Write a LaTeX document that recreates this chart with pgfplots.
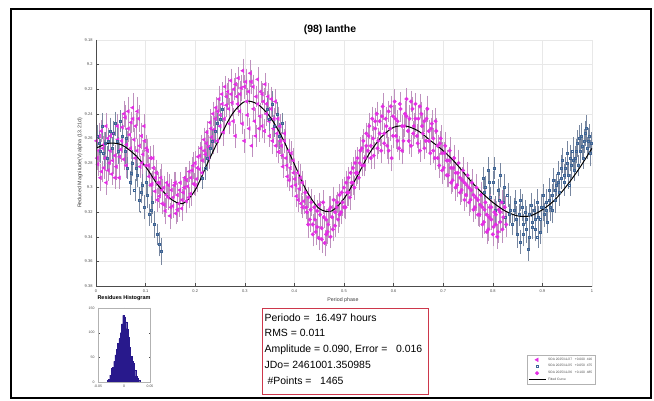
\documentclass[border=0pt]{standalone}
\usepackage{pgfplots}
\pgfplotsset{compat=1.18}
\usepackage{pgfplotstable}
\usepackage{fontspec}
\setmainfont{Liberation Sans}
\definecolor{mag}{RGB}{228,45,228}
\definecolor{magerr}{RGB}{190,145,190}
\definecolor{blu}{RGB}{60,100,150}
\definecolor{bluerr}{RGB}{120,135,160}
\definecolor{hist}{RGB}{40,25,140}
\definecolor{boxred}{RGB}{205,55,75}

\pgfplotstableread{
p m e
0.001 9.262 0.008
0.004 9.281 0.009
0.006 9.270 0.008
0.009 9.292 0.010
0.011 9.254 0.008
0.014 9.268 0.009
0.016 9.284 0.008
0.019 9.276 0.010
0.021 9.296 0.009
0.024 9.260 0.008
0.027 9.280 0.009
0.029 9.270 0.010
0.032 9.289 0.008
0.035 9.256 0.009
0.038 9.274 0.008
0.041 9.283 0.010
0.044 9.261 0.009
0.047 9.292 0.008
0.050 9.269 0.009
0.053 9.251 0.010
0.056 9.277 0.008
0.059 9.243 0.009
0.062 9.265 0.010
0.065 9.238 0.011
0.068 9.257 0.009
0.071 9.247 0.008
0.074 9.235 0.011
0.077 9.261 0.009
0.080 9.250 0.010
0.083 9.270 0.009
0.086 9.244 0.010
0.089 9.283 0.008
0.092 9.258 0.010
0.095 9.273 0.009
0.098 9.262 0.008
0.101 9.282 0.010
0.104 9.270 0.009
0.107 9.291 0.008
0.110 9.276 0.009
0.113 9.297 0.010
0.116 9.284 0.008
0.119 9.303 0.009
0.122 9.288 0.010
0.125 9.296 0.008
0.128 9.307 0.009
0.131 9.292 0.010
0.134 9.313 0.008
0.137 9.300 0.009
0.140 9.319 0.010
0.143 9.296 0.008
0.146 9.308 0.009
0.149 9.323 0.010
0.152 9.302 0.008
0.155 9.315 0.009
0.158 9.298 0.010
0.161 9.321 0.008
0.164 9.306 0.009
0.167 9.313 0.010
0.170 9.296 0.008
0.173 9.317 0.009
0.176 9.304 0.010
0.179 9.292 0.008
0.182 9.311 0.009
0.185 9.299 0.010
0.188 9.287 0.008
0.191 9.305 0.009
0.194 9.286 0.010
0.197 9.297 0.008
0.200 9.280 0.009
0.203 9.293 0.010
0.206 9.275 0.008
0.209 9.285 0.009
0.212 9.268 0.010
0.215 9.278 0.008
0.218 9.261 0.009
0.221 9.273 0.010
0.224 9.255 0.008
0.227 9.267 0.009
0.230 9.247 0.010
0.233 9.259 0.008
0.236 9.240 0.009
0.239 9.253 0.010
0.242 9.235 0.008
0.245 9.262 0.009
0.248 9.228 0.010
0.251 9.241 0.008
0.254 9.224 0.009
0.257 9.255 0.010
0.260 9.218 0.008
0.263 9.233 0.009
0.266 9.222 0.010
0.269 9.248 0.008
0.272 9.213 0.009
0.275 9.231 0.010
0.278 9.220 0.008
0.281 9.258 0.009
0.284 9.226 0.010
0.287 9.211 0.008
0.290 9.238 0.009
0.293 9.219 0.010
0.296 9.205 0.009
0.299 9.262 0.009
0.302 9.214 0.010
0.305 9.241 0.008
0.308 9.222 0.009
0.311 9.207 0.010
0.314 9.266 0.008
0.317 9.218 0.009
0.320 9.246 0.010
0.323 9.226 0.008
0.326 9.212 0.009
0.329 9.252 0.010
0.332 9.222 0.008
0.335 9.250 0.009
0.338 9.230 0.010
0.341 9.216 0.008
0.344 9.240 0.009
0.347 9.226 0.010
0.350 9.258 0.008
0.353 9.236 0.009
0.356 9.262 0.010
0.359 9.244 0.008
0.362 9.230 0.009
0.365 9.256 0.010
0.368 9.271 0.008
0.371 9.250 0.009
0.374 9.266 0.010
0.377 9.283 0.008
0.380 9.262 0.009
0.383 9.276 0.010
0.386 9.291 0.008
0.389 9.270 0.009
0.392 9.284 0.010
0.395 9.299 0.008
0.398 9.278 0.009
0.401 9.293 0.010
0.404 9.307 0.008
0.407 9.288 0.009
0.410 9.301 0.010
0.413 9.313 0.008
0.416 9.296 0.009
0.419 9.311 0.010
0.0025 9.276 0.009
0.0070 9.258 0.010
0.0115 9.287 0.008
0.0160 9.265 0.009
0.0205 9.250 0.010
0.0250 9.286 0.008
0.0295 9.258 0.009
0.0340 9.278 0.010
0.0385 9.292 0.008
0.0430 9.250 0.009
0.0475 9.275 0.011
0.0520 9.262 0.009
0.0565 9.240 0.010
0.0610 9.282 0.009
0.0655 9.252 0.010
0.0700 9.268 0.008
0.0745 9.244 0.010
0.0790 9.276 0.009
0.0835 9.238 0.011
0.0880 9.266 0.009
0.0925 9.280 0.010
0.0970 9.250 0.009
0.1015 9.268 0.010
0.1060 9.282 0.008
0.1105 9.298 0.009
0.1150 9.276 0.010
0.1195 9.292 0.008
0.1240 9.310 0.009
0.1285 9.296 0.010
0.1330 9.302 0.008
0.1375 9.314 0.009
0.1420 9.306 0.010
0.1465 9.298 0.008
0.1510 9.316 0.009
0.1555 9.308 0.010
0.1600 9.296 0.008
0.1645 9.318 0.009
0.1690 9.302 0.010
0.1735 9.310 0.008
0.1780 9.300 0.009
0.1825 9.294 0.010
0.1870 9.308 0.008
0.1915 9.292 0.009
0.1960 9.282 0.010
0.2005 9.298 0.008
0.2050 9.284 0.009
0.2095 9.274 0.010
0.2140 9.288 0.008
0.2185 9.270 0.009
0.2230 9.264 0.010
0.2275 9.276 0.008
0.2320 9.252 0.009
0.2365 9.262 0.010
0.2410 9.244 0.008
0.2455 9.238 0.009
0.2500 9.250 0.010
0.2545 9.232 0.008
0.2590 9.244 0.009
0.2635 9.226 0.010
0.2680 9.236 0.008
0.2725 9.224 0.009
0.2770 9.246 0.010
0.2815 9.216 0.008
0.2860 9.232 0.009
0.2905 9.224 0.010
0.2950 9.248 0.008
0.2995 9.218 0.009
0.3040 9.230 0.010
0.3085 9.252 0.008
0.3130 9.214 0.009
0.3175 9.236 0.010
0.3220 9.258 0.008
0.3265 9.232 0.009
0.3310 9.242 0.010
0.3355 9.224 0.008
0.3400 9.254 0.009
0.3445 9.232 0.010
0.3490 9.246 0.008
0.3535 9.228 0.009
0.3580 9.252 0.010
0.3625 9.266 0.008
0.3670 9.244 0.009
0.3715 9.262 0.010
0.3760 9.274 0.008
0.3805 9.256 0.009
0.3850 9.282 0.010
0.3895 9.294 0.008
0.3940 9.272 0.009
0.3985 9.288 0.010
0.4030 9.298 0.008
0.4075 9.310 0.009
0.4120 9.292 0.010
0.4165 9.316 0.008
}\sA

\pgfplotstableread{
p m e
0.780 9.292 0.008
0.785 9.300 0.009
0.790 9.286 0.010
0.795 9.308 0.008
0.800 9.296 0.009
0.805 9.318 0.010
0.810 9.302 0.008
0.815 9.290 0.009
0.820 9.312 0.010
0.825 9.324 0.008
0.830 9.306 0.009
0.835 9.318 0.010
0.840 9.330 0.008
0.845 9.312 0.009
0.850 9.338 0.010
0.853 9.322 0.008
0.856 9.344 0.009
0.859 9.316 0.010
0.862 9.330 0.008
0.865 9.320 0.009
0.868 9.334 0.010
0.871 9.350 0.009
0.874 9.322 0.008
0.877 9.314 0.009
0.880 9.328 0.010
0.883 9.318 0.008
0.886 9.334 0.009
0.889 9.312 0.010
0.892 9.324 0.008
0.895 9.336 0.009
0.898 9.316 0.010
0.901 9.306 0.008
0.904 9.322 0.009
0.907 9.312 0.010
0.910 9.328 0.008
0.913 9.302 0.009
0.916 9.316 0.010
0.919 9.306 0.008
0.922 9.294 0.009
0.925 9.310 0.010
0.928 9.298 0.008
0.931 9.288 0.009
0.934 9.304 0.010
0.937 9.292 0.008
0.940 9.278 0.009
0.943 9.296 0.010
0.946 9.284 0.008
0.949 9.272 0.009
0.952 9.290 0.010
0.955 9.298 0.008
0.958 9.282 0.009
0.961 9.270 0.010
0.964 9.286 0.008
0.967 9.276 0.009
0.970 9.264 0.010
0.973 9.282 0.008
0.976 9.270 0.009
0.979 9.258 0.010
0.982 9.276 0.008
0.985 9.262 0.009
0.988 9.252 0.010
0.991 9.268 0.008
0.994 9.258 0.009
0.997 9.272 0.010
0.003 9.258 0.008
0.008 9.270 0.009
0.013 9.250 0.010
0.018 9.264 0.008
0.023 9.276 0.009
0.028 9.254 0.010
0.033 9.268 0.008
0.038 9.248 0.009
0.043 9.262 0.010
0.048 9.246 0.008
0.053 9.258 0.009
0.058 9.270 0.010
0.063 9.284 0.008
0.068 9.296 0.009
0.073 9.280 0.010
0.078 9.302 0.008
0.083 9.290 0.009
0.088 9.310 0.010
0.093 9.298 0.008
0.098 9.316 0.009
0.103 9.306 0.010
0.108 9.322 0.008
0.113 9.312 0.009
0.118 9.330 0.010
0.123 9.338 0.008
0.128 9.346 0.009
0.131 9.352 0.010
0.215 9.292 0.008
0.220 9.284 0.009
0.225 9.276 0.010
0.230 9.268 0.008
0.235 9.262 0.009
0.240 9.254 0.010
0.245 9.248 0.008
0.250 9.244 0.009
0.255 9.236 0.010
0.345 9.236 0.008
0.350 9.244 0.009
0.355 9.232 0.010
0.360 9.250 0.008
0.365 9.240 0.009
0.370 9.258 0.010
0.375 9.248 0.008
0.7825 9.304 0.009
0.7925 9.296 0.010
0.8025 9.284 0.008
0.8125 9.310 0.009
0.8225 9.300 0.010
0.8325 9.322 0.008
0.8425 9.318 0.009
0.8475 9.326 0.010
0.8545 9.310 0.008
0.8605 9.338 0.009
0.8665 9.326 0.010
0.8725 9.340 0.008
0.8785 9.332 0.009
0.8845 9.326 0.010
0.8905 9.340 0.008
0.8965 9.326 0.009
0.9025 9.316 0.010
0.9085 9.318 0.008
0.9145 9.310 0.009
0.9205 9.318 0.010
0.9265 9.302 0.008
0.9325 9.296 0.009
0.9385 9.284 0.010
0.9445 9.290 0.008
0.9505 9.280 0.009
0.9565 9.276 0.010
0.9625 9.278 0.008
0.9685 9.270 0.009
0.9745 9.260 0.010
0.9805 9.266 0.008
0.9865 9.256 0.009
0.9925 9.262 0.010
0.9985 9.264 0.008
0.0055 9.264 0.009
0.0155 9.272 0.010
0.0255 9.262 0.008
0.0355 9.256 0.009
0.0455 9.270 0.010
0.0605 9.260 0.008
0.0705 9.288 0.009
0.0805 9.284 0.010
0.0905 9.304 0.008
0.1005 9.296 0.009
0.1105 9.318 0.010
}\sB

\pgfplotstableread{
p m e
0.422 9.304 0.009
0.425 9.320 0.010
0.428 9.308 0.008
0.431 9.326 0.009
0.434 9.312 0.010
0.437 9.330 0.008
0.440 9.316 0.009
0.443 9.336 0.010
0.446 9.319 0.008
0.449 9.341 0.009
0.452 9.322 0.010
0.455 9.333 0.008
0.458 9.312 0.009
0.461 9.345 0.010
0.464 9.326 0.008
0.467 9.336 0.009
0.470 9.318 0.010
0.473 9.340 0.008
0.476 9.324 0.009
0.479 9.310 0.010
0.482 9.331 0.008
0.485 9.316 0.009
0.488 9.326 0.010
0.491 9.306 0.008
0.494 9.320 0.009
0.497 9.312 0.010
0.500 9.300 0.008
0.503 9.316 0.009
0.506 9.304 0.010
0.509 9.292 0.008
0.512 9.308 0.009
0.515 9.296 0.010
0.518 9.284 0.008
0.521 9.300 0.009
0.524 9.288 0.010
0.527 9.276 0.008
0.530 9.292 0.009
0.533 9.270 0.010
0.536 9.282 0.008
0.539 9.262 0.009
0.542 9.276 0.010
0.545 9.256 0.008
0.548 9.270 0.009
0.551 9.250 0.010
0.554 9.266 0.008
0.557 9.244 0.009
0.560 9.274 0.010
0.563 9.252 0.008
0.566 9.240 0.009
0.569 9.262 0.010
0.572 9.246 0.008
0.575 9.270 0.009
0.578 9.234 0.010
0.581 9.256 0.008
0.584 9.244 0.009
0.587 9.266 0.010
0.590 9.238 0.008
0.593 9.252 0.009
0.596 9.276 0.010
0.599 9.242 0.008
0.602 9.230 0.009
0.605 9.258 0.010
0.608 9.246 0.008
0.611 9.268 0.009
0.614 9.236 0.010
0.617 9.250 0.008
0.620 9.262 0.009
0.623 9.240 0.010
0.626 9.228 0.008
0.629 9.254 0.009
0.632 9.244 0.010
0.635 9.266 0.008
0.638 9.236 0.009
0.641 9.250 0.010
0.644 9.232 0.008
0.647 9.258 0.009
0.650 9.244 0.010
0.653 9.270 0.008
0.656 9.240 0.009
0.659 9.256 0.010
0.662 9.246 0.008
0.665 9.262 0.009
0.668 9.236 0.010
0.671 9.254 0.008
0.674 9.272 0.009
0.677 9.248 0.010
0.680 9.260 0.008
0.683 9.276 0.009
0.686 9.254 0.010
0.689 9.266 0.008
0.692 9.282 0.009
0.695 9.260 0.010
0.698 9.272 0.008
0.701 9.284 0.009
0.704 9.266 0.010
0.707 9.278 0.008
0.710 9.290 0.009
0.713 9.270 0.010
0.716 9.284 0.008
0.719 9.294 0.009
0.722 9.276 0.010
0.725 9.288 0.008
0.728 9.298 0.009
0.731 9.280 0.010
0.734 9.292 0.008
0.737 9.302 0.009
0.740 9.286 0.010
0.743 9.296 0.008
0.746 9.306 0.009
0.749 9.290 0.010
0.752 9.300 0.008
0.755 9.310 0.009
0.758 9.296 0.010
0.761 9.306 0.008
0.764 9.316 0.009
0.767 9.300 0.010
0.770 9.310 0.008
0.773 9.322 0.009
0.776 9.306 0.010
0.779 9.316 0.008
0.782 9.328 0.009
0.785 9.312 0.010
0.788 9.322 0.008
0.791 9.334 0.009
0.794 9.316 0.010
0.797 9.326 0.008
0.800 9.338 0.009
0.803 9.320 0.010
0.806 9.330 0.008
0.809 9.340 0.009
0.812 9.318 0.010
0.815 9.328 0.008
0.818 9.312 0.009
0.821 9.324 0.010
0.824 9.316 0.008
0.827 9.330 0.009
0.4235 9.316 0.009
0.4280 9.330 0.010
0.4325 9.318 0.008
0.4370 9.338 0.009
0.4415 9.326 0.010
0.4460 9.332 0.008
0.4505 9.314 0.009
0.4550 9.342 0.010
0.4595 9.324 0.008
0.4640 9.338 0.009
0.4685 9.330 0.010
0.4730 9.316 0.008
0.4775 9.334 0.009
0.4820 9.320 0.010
0.4865 9.312 0.008
0.4910 9.322 0.009
0.4955 9.304 0.010
0.5000 9.316 0.008
0.5045 9.296 0.009
0.5090 9.304 0.010
0.5135 9.288 0.008
0.5180 9.296 0.009
0.5225 9.280 0.010
0.5270 9.288 0.008
0.5315 9.280 0.009
0.5360 9.268 0.010
0.5405 9.282 0.008
0.5450 9.266 0.009
0.5495 9.258 0.010
0.5540 9.276 0.008
0.5585 9.260 0.009
0.5630 9.246 0.010
0.5675 9.268 0.008
0.5720 9.256 0.009
0.5765 9.242 0.010
0.5810 9.264 0.008
0.5855 9.250 0.009
0.5900 9.270 0.010
0.5945 9.234 0.008
0.5990 9.258 0.009
0.6035 9.244 0.010
0.6080 9.262 0.008
0.6125 9.232 0.009
0.6170 9.270 0.010
0.6215 9.250 0.008
0.6260 9.242 0.009
0.6305 9.262 0.010
0.6350 9.230 0.008
0.6395 9.256 0.009
0.6440 9.244 0.010
0.6485 9.264 0.008
0.6530 9.234 0.009
0.6575 9.250 0.010
0.6620 9.268 0.008
0.6665 9.244 0.009
0.6710 9.262 0.010
0.6755 9.252 0.008
0.6800 9.270 0.009
0.6845 9.246 0.010
0.6890 9.276 0.008
0.6935 9.264 0.009
0.6980 9.286 0.010
0.7025 9.272 0.008
0.7070 9.290 0.009
0.7115 9.278 0.010
0.7160 9.296 0.008
0.7205 9.284 0.009
0.7250 9.300 0.010
0.7295 9.288 0.008
0.7340 9.304 0.009
0.7385 9.294 0.010
0.7430 9.310 0.008
0.7475 9.298 0.009
0.7520 9.312 0.010
0.7565 9.302 0.008
0.7610 9.318 0.009
0.7655 9.308 0.010
0.7700 9.322 0.008
0.7745 9.314 0.009
0.7790 9.330 0.010
0.7835 9.318 0.008
0.7880 9.336 0.009
0.7925 9.324 0.010
0.7970 9.316 0.008
0.8015 9.332 0.009
0.8060 9.322 0.010
0.8105 9.336 0.008
0.8150 9.320 0.009
0.8195 9.334 0.010
}\sC

\begin{document}
\begin{tikzpicture}
\path[use as bounding box, fill=white] (0bp,0bp) rectangle (654bp,401bp);
\draw[line width=1.8bp] (11bp,3bp) rectangle (651bp,392bp);

\begin{axis}[
  at={(96bp,115bp)}, anchor=south west, scale only axis,
  width=496bp, height=246bp,
  xmin=0, xmax=1, ymin=9.18, ymax=9.38, y dir=reverse,
  xtick={0,0.1,0.2,0.3,0.4,0.5,0.6,0.7,0.8,0.9,1},
  xticklabels={0,0.1,0.2,0.3,0.4,0.5,0.6,0.7,0.8,0.9,1},
  ytick={9.18,9.20,9.22,9.24,9.26,9.28,9.30,9.32,9.34,9.36,9.38},
  yticklabels={9.18,9.2,9.22,9.24,9.26,9.28,9.3,9.32,9.34,9.36,9.38},
  grid=major, major grid style={gray!18, line width=0.35bp},
  axis line style={gray!18},
  tick align=inside, major tick length=3bp,
  tick style={gray!60!black, line width=0.4bp},
  xtick pos=left, ytick pos=left,
  ticklabel style={font=\fontsize{4}{4.5}\selectfont, text=gray!60!black},
  xlabel={Period phase},
  ylabel={Reduced Magnitude(V) alpha (13.21d)},
  label style={font=\fontsize{5.3}{6}\selectfont, text=gray!50!black},
  xlabel style={at={(axis description cs:0.498,-0.057)}, anchor=center},
  ylabel style={at={(axis description cs:-0.032,0.5)}, anchor=center},
  legend style={at={(0.869,-0.28)}, anchor=north west,
    font=\fontsize{3.3}{3.8}\selectfont, draw=gray!60, inner sep=0.8bp,
    row sep=-1.2bp, legend cell align=left, text=gray!60!black},
]
\addplot[only marks, mark=triangle*, mark size=2.1bp,
  mark options={rotate=90, fill=mag, draw=mag},
  error bars/.cd, y dir=both, y explicit,
  error bar style={magerr, line width=0.3bp},
  error mark options={magerr, mark size=1bp, line width=0.3bp}]
  table[x=p, y=m, y error=e] {\sA};
\addlegendentry{SOA 2025/11/27\ \ \ +0.000\ \ 416}
\addplot[only marks, mark=square, mark size=1bp,
  mark options={draw=blu, line width=0.4bp},
  error bars/.cd, y dir=both, y explicit,
  error bar style={bluerr, line width=0.3bp},
  error mark options={bluerr, mark size=1bp, line width=0.3bp}]
  table[x=p, y=m, y error=e] {\sB};
\addlegendentry{SOA 2025/11/25\ \ \ +0.050\ \ 475}
\addplot[only marks, mark=*, mark size=1.8bp,
  mark options={fill=mag, draw=mag},
  error bars/.cd, y dir=both, y explicit,
  error bar style={magerr, line width=0.3bp},
  error mark options={magerr, mark size=1bp, line width=0.3bp}]
  table[x=p, y=m, y error=e] {\sC};
\addlegendentry{SOA 2025/11/26\ \ \ +0.100\ \ 485}
\addplot[black, line width=1bp, smooth] coordinates {
(0.000,9.268) (0.025,9.264) (0.050,9.265) (0.075,9.272) (0.100,9.283)
(0.125,9.298) (0.150,9.309) (0.175,9.313) (0.200,9.302) (0.225,9.280)
(0.250,9.259) (0.275,9.240) (0.300,9.230) (0.325,9.232) (0.350,9.242)
(0.375,9.259) (0.400,9.281) (0.425,9.303) (0.450,9.317) (0.475,9.319)
(0.500,9.309) (0.525,9.292) (0.550,9.273) (0.575,9.259) (0.600,9.251)
(0.625,9.250) (0.650,9.254) (0.675,9.262) (0.700,9.270) (0.725,9.280)
(0.750,9.292) (0.775,9.303) (0.800,9.312) (0.825,9.319) (0.850,9.323)
(0.875,9.323) (0.900,9.318) (0.925,9.310) (0.950,9.298) (0.975,9.284)
(1.000,9.268)};
\addlegendentry{Fitted Curve}
\end{axis}
\draw[gray!60!black, line width=0.4bp] (96bp,361bp) -- (96bp,115bp) -- (592bp,115bp);

\node[font=\bfseries\fontsize{10.5}{12}\selectfont, anchor=base] at (330bp,368bp) {(98) Ianthe};

\begin{axis}[
  at={(98bp,19bp)}, anchor=south west, scale only axis,
  width=52bp, height=74bp,
  xmin=-0.05, xmax=0.05, ymin=0, ymax=150,
  scaled x ticks=false, scaled y ticks=false,
  xtick={-0.05,0,0.05}, xticklabels={-0.05,0,0.05},
  ytick={0,50,100,150}, yticklabels={0,50,100,150},
  axis line style={gray!60}, tick align=inside, major tick length=1.5bp,
  tick style={gray!60!black, line width=0.3bp},
  ticklabel style={font=\fontsize{3.5}{4}\selectfont, text=gray!60!black},
  title={Residues Histogram},
  title style={font=\bfseries\fontsize{5.5}{6}\selectfont, at={(0.5,1)}, anchor=south, yshift=0.5bp, inner sep=1bp},
]
\addplot[ybar interval, fill=hist, draw=hist, line width=0.2bp] coordinates {
(-0.0325,3) (-0.0300,6) (-0.0275,14) (-0.0250,28) (-0.0225,30)
(-0.0200,42) (-0.0175,55) (-0.0150,66) (-0.0125,78) (-0.0100,88)
(-0.0075,100) (-0.0050,118) (-0.0025,135) (0.0000,132) (0.0025,122)
(0.0050,108) (0.0075,90) (0.0100,70) (0.0125,52) (0.0150,42)
(0.0175,38) (0.0200,24) (0.0225,12) (0.0250,8) (0.0275,3) (0.0300,0)};
\end{axis}

\draw[boxred, line width=0.8bp] (262bp,7bp) rectangle (428bp,93bp);
\begin{scope}[every node/.style={anchor=base west, inner sep=0, font=\fontsize{10.5}{12}\selectfont}]
\node at (264.5bp,79bp) {Periodo =\ \ 16.497 hours};
\node at (264.5bp,64bp) {RMS = 0.011};
\node at (264.5bp,48.5bp) {Amplitude = 0.090, Error =\ \ \ 0.016};
\node at (264.5bp,32.5bp) {JDo= 2461001.350985};
\node at (264.5bp,16.5bp) {\ \#Points =\ \ \ 1465};
\end{scope}
\end{tikzpicture}
\end{document}
